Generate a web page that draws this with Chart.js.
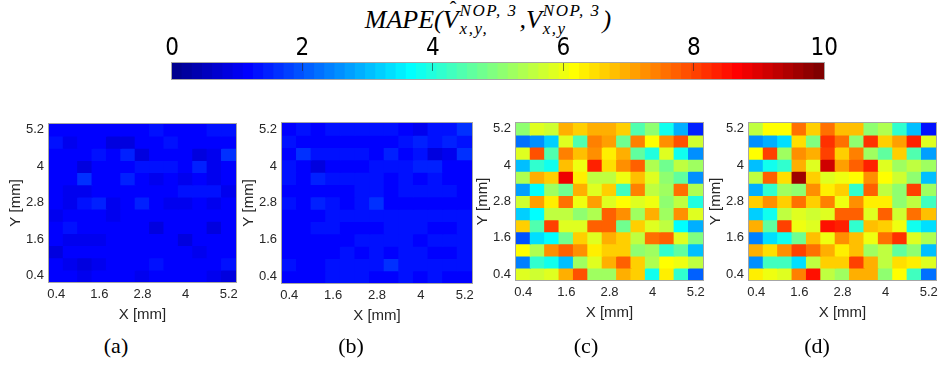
<!DOCTYPE html>
<html>
<head>
<meta charset="utf-8">
<script src="https://cdn.jsdelivr.net/npm/chart.js@4/dist/chart.umd.min.js"></script>
<style>
  html, body { margin: 0; padding: 0; background: #fff; }
  body { width: 941px; height: 366px; position: relative; overflow: hidden; }
  canvas { position: absolute; }
  #title { position: absolute; left: 488px; top: 2px; transform: translateX(-50%);
    font: italic 26px 'Liberation Serif', serif; white-space: nowrap; color: #000; line-height: 36px; }
  .hat { position: relative; }
  .hat i { position: absolute; left: 7px; top: -6px; font-style: normal; font-size: 20px; line-height: 20px; }
  .ss { display: inline-flex; flex-direction: column; font-size: 17px; line-height: 18px;
    vertical-align: 12px; letter-spacing: 1.5px; margin-left: 1px; margin-right: 2px; }
  .cap { position: absolute; top: 333px; font: 22px 'Liberation Serif', serif; transform: translateX(-50%); }
</style>
</head>
<body>
<div id="title">MAPE(<span class="hat">V<i>&#710;</i></span><span class="ss"><span>NOP, 3</span><span>x,y,</span></span>,V<span class="ss"><span>NOP, 3</span><span>x,y</span></span>)</div>
<canvas id="cbar"></canvas>
<canvas id="pa"></canvas>
<canvas id="pb"></canvas>
<canvas id="pc"></canvas>
<canvas id="pd"></canvas>
<div class="cap" style="left:116px">(a)</div>
<div class="cap" style="left:351px">(b)</div>
<div class="cap" style="left:586px">(c)</div>
<div class="cap" style="left:817px">(d)</div>
<script>
// grid coordinates (mm)
var xLabels = ['0.4', '0.8', '1.2', '1.6', '2', '2.4', '2.8', '3.2', '3.6', '4', '4.4', '4.8', '5.2'];
var xTickLabels = ['0.4', '1.6', '2.8', '4', '5.2'];
var yRows = [5.2, 4.8, 4.4, 4, 3.6, 3.2, 2.8, 2.4, 2, 1.6, 1.2, 0.8, 0.4]; // top row first
var yTicks = [0.4, 1.6, 2.8, 4, 5.2];
var cbarTicks = [0, 2, 4, 6, 8, 10];
var cMin = 0, cMax = 10, cLevels = 64;

// MAPE values, rows from top (y = 5.2) to bottom (y = 0.4)
var mapeA = [
  [1.1, 1.2, 1.1, 1.2, 1.2, 1.1, 1.1, 1.4, 1.1, 1.1, 1.2, 1.4, 1.4],
  [1.4, 1.0, 1.1, 1.2, 0.8, 0.9, 1.1, 1.1, 1.4, 1.2, 1.2, 1.2, 1.2],
  [1.1, 1.2, 1.2, 1.4, 1.1, 1.5, 0.9, 1.2, 1.1, 1.1, 0.8, 1.0, 1.6],
  [1.2, 1.1, 0.9, 1.2, 1.1, 1.1, 1.4, 1.3, 1.3, 1.2, 1.5, 1.0, 1.1],
  [1.2, 1.1, 1.6, 1.1, 1.1, 1.5, 1.1, 1.0, 1.1, 1.0, 1.1, 1.0, 1.1],
  [1.2, 1.0, 1.0, 1.1, 1.1, 1.2, 1.1, 1.1, 1.2, 1.3, 1.3, 1.3, 1.0],
  [1.1, 1.0, 1.3, 1.5, 1.0, 1.1, 1.5, 1.2, 1.0, 1.0, 1.1, 1.0, 1.1],
  [1.0, 1.1, 1.1, 1.2, 1.0, 1.1, 1.2, 1.2, 1.2, 1.2, 1.2, 1.2, 1.2],
  [1.1, 1.3, 1.1, 1.2, 1.2, 1.2, 1.1, 0.9, 1.2, 1.1, 1.1, 0.8, 1.2],
  [1.1, 1.0, 1.0, 1.0, 1.2, 1.2, 1.2, 1.2, 1.2, 0.9, 1.2, 1.1, 1.2],
  [0.9, 1.1, 1.1, 1.2, 1.2, 1.1, 1.2, 1.1, 1.2, 1.2, 1.0, 1.1, 1.2],
  [1.1, 1.0, 0.9, 1.0, 1.1, 1.1, 1.1, 1.4, 1.2, 1.2, 1.2, 1.1, 1.3],
  [1.1, 1.1, 1.0, 1.2, 1.2, 1.2, 1.0, 1.1, 1.1, 1.1, 1.1, 1.0, 0.8]
];
var mapeB = [
  [1.2, 1.3, 1.2, 1.3, 1.4, 1.3, 1.4, 1.4, 1.2, 1.0, 1.3, 1.3, 1.7],
  [1.4, 1.1, 1.2, 1.2, 1.1, 1.2, 1.2, 1.2, 1.3, 1.5, 1.3, 1.5, 1.3],
  [1.2, 1.6, 1.3, 1.3, 1.3, 1.3, 1.2, 1.5, 1.2, 1.3, 0.9, 1.0, 1.6],
  [1.4, 1.1, 0.9, 1.2, 1.1, 1.2, 1.4, 1.3, 1.3, 1.5, 1.5, 1.2, 1.1],
  [1.3, 1.2, 1.5, 1.3, 1.4, 1.4, 1.3, 1.2, 1.3, 1.1, 1.3, 1.2, 1.2],
  [1.2, 1.1, 1.2, 1.2, 1.2, 1.3, 1.3, 1.2, 1.3, 1.3, 1.4, 1.3, 1.2],
  [1.3, 1.2, 1.5, 1.3, 1.1, 1.3, 1.7, 1.2, 1.1, 1.1, 1.2, 1.2, 1.2],
  [1.1, 1.2, 1.2, 1.3, 1.3, 1.3, 1.3, 1.3, 1.3, 1.3, 1.3, 1.3, 1.4],
  [1.2, 1.2, 1.3, 1.3, 1.1, 1.2, 1.2, 1.3, 1.3, 1.3, 1.2, 1.1, 1.3],
  [1.2, 1.1, 1.2, 1.1, 1.2, 1.3, 1.4, 1.3, 1.3, 1.1, 1.4, 1.3, 1.3],
  [1.1, 1.2, 1.2, 1.2, 1.3, 1.2, 1.3, 1.2, 1.3, 1.3, 1.1, 1.2, 1.3],
  [1.3, 1.1, 1.1, 1.3, 1.3, 1.3, 1.3, 1.6, 1.3, 1.4, 1.3, 1.4, 1.3],
  [1.2, 1.2, 1.2, 1.4, 1.3, 1.3, 1.2, 1.2, 1.3, 1.1, 1.3, 1.1, 1.1]
];
var mapeC = [
  [5.0, 5.9, 5.7, 7.0, 6.6, 6.9, 6.9, 6.7, 4.4, 5.1, 3.8, 2.9, 1.5],
  [2.3, 2.5, 3.2, 5.9, 4.4, 7.4, 7.1, 4.8, 7.4, 6.2, 7.2, 7.9, 5.7],
  [5.8, 7.9, 4.5, 7.4, 6.8, 7.3, 6.4, 7.0, 4.6, 4.0, 5.8, 3.9, 2.6],
  [3.1, 4.2, 3.8, 6.8, 6.0, 8.3, 6.5, 7.2, 7.8, 5.4, 4.7, 5.5, 5.3],
  [5.4, 7.0, 6.7, 8.8, 6.3, 5.6, 5.6, 6.0, 6.8, 5.8, 5.1, 4.6, 2.6],
  [2.8, 3.6, 5.3, 4.7, 7.0, 5.8, 6.6, 4.3, 7.4, 5.5, 5.3, 7.6, 5.4],
  [5.7, 7.1, 6.3, 7.5, 6.0, 7.1, 5.9, 6.2, 5.8, 6.0, 5.0, 5.5, 4.0],
  [3.2, 3.7, 5.5, 5.5, 5.0, 5.4, 7.7, 7.2, 5.2, 7.0, 5.3, 7.2, 5.8],
  [6.7, 4.5, 8.0, 5.9, 5.9, 7.8, 7.8, 4.7, 6.6, 5.8, 5.6, 3.6, 2.9],
  [2.0, 3.3, 3.6, 4.8, 6.7, 5.9, 7.0, 6.6, 5.6, 7.5, 7.8, 5.9, 4.9],
  [6.2, 5.4, 7.2, 7.8, 7.3, 6.3, 6.6, 6.6, 5.0, 5.3, 4.1, 4.6, 3.0],
  [2.4, 4.1, 3.8, 3.1, 5.2, 5.8, 6.9, 7.7, 6.6, 5.4, 6.2, 6.0, 5.5],
  [5.8, 5.7, 5.9, 7.0, 7.9, 5.3, 5.2, 7.0, 6.6, 3.8, 6.3, 4.2, 2.1]
];
var mapeD = [
  [5.5, 6.2, 6.2, 7.6, 6.6, 7.5, 6.8, 6.8, 5.0, 5.4, 4.2, 3.0, 1.4],
  [2.5, 2.9, 3.3, 6.5, 4.9, 8.2, 7.5, 5.1, 8.2, 6.6, 7.1, 8.3, 5.9],
  [6.2, 8.1, 5.2, 7.3, 7.0, 8.1, 6.7, 7.4, 5.2, 4.6, 6.6, 4.5, 2.8],
  [3.1, 3.9, 4.2, 7.0, 5.9, 9.2, 7.1, 7.8, 8.3, 5.8, 5.3, 5.6, 5.3],
  [5.5, 7.8, 6.5, 9.6, 6.7, 5.9, 6.0, 6.1, 7.2, 6.2, 5.7, 5.1, 3.0],
  [2.9, 4.1, 5.2, 5.0, 7.3, 6.3, 6.7, 4.2, 7.7, 5.6, 5.0, 8.1, 5.3],
  [6.7, 7.3, 6.7, 7.6, 6.7, 7.4, 6.0, 7.2, 6.4, 6.4, 5.0, 5.6, 4.3],
  [3.2, 3.8, 5.6, 5.8, 5.7, 5.8, 7.7, 7.7, 5.8, 7.7, 5.7, 7.6, 6.8],
  [7.0, 4.6, 8.1, 6.0, 5.8, 8.5, 8.4, 4.2, 6.8, 6.7, 6.0, 3.9, 3.3],
  [2.4, 3.3, 3.9, 4.8, 6.8, 6.0, 7.3, 6.8, 6.0, 7.6, 8.2, 5.8, 5.4],
  [7.0, 6.5, 7.3, 8.1, 7.6, 6.9, 6.4, 6.8, 5.2, 5.5, 4.6, 5.1, 3.1],
  [2.5, 4.3, 4.3, 3.4, 5.6, 6.7, 6.7, 8.0, 7.0, 5.6, 6.5, 6.3, 5.8],
  [6.3, 6.0, 5.8, 7.4, 8.5, 5.6, 5.3, 7.0, 7.0, 5.0, 6.2, 4.3, 2.3]
];

// matlab jet(64)
function jet(v) {
  var t = (v - cMin) / (cMax - cMin);
  var k = Math.min(cLevels - 1, Math.max(0, Math.floor(t * cLevels)));
  var s = (k + 1) / cLevels;
  function c(x) { return Math.round(255 * Math.min(1, Math.max(0, 1.5 - Math.abs(4 * s - x)))); }
  return 'rgb(' + c(3) + ',' + c(2) + ',' + c(1) + ')';
}

var tickFont = { family: 'Liberation Sans, Arial, sans-serif', size: 13 };
var titleFont = { family: 'Liberation Sans, Arial, sans-serif', size: 15 };

var framePlugin = {
  id: 'frame',
  afterDraw: function (chart) {
    var a = chart.chartArea, ctx = chart.ctx;
    ctx.save();
    ctx.strokeStyle = '#a6a6a6';
    ctx.lineWidth = 1;
    ctx.strokeRect(Math.round(a.left) - 0.5, Math.round(a.top) - 0.5, Math.round(a.right - a.left) + 1, Math.round(a.bottom - a.top) + 1);
    ctx.restore();
  }
};

function drawPanel(id, values, box) {
  var yW = 42, xH = 42, padTop = 6, padRight = 12;
  var cv = document.getElementById(id);
  cv.width = yW + box.w + padRight;
  cv.height = padTop + box.h + xH;
  cv.style.left = (box.x - yW) + 'px';
  cv.style.top = (box.y - padTop) + 'px';

  var datasets = values.map(function (row, r) {
    return {
      data: row.map(function () { return [yRows[r] - 0.2, yRows[r] + 0.2]; }),
      backgroundColor: row.map(jet),
      borderWidth: 0,
      inflateAmount: 0.6,
      grouped: false,
      barPercentage: 1,
      categoryPercentage: 1
    };
  });

  new Chart(cv, {
    type: 'bar',
    data: { labels: xLabels, datasets: datasets },
    options: {
      responsive: false,
      animation: false,
      layout: { padding: { top: padTop, right: padRight, left: 0, bottom: 0 } },
      plugins: { legend: { display: false }, tooltip: { enabled: false } },
      scales: {
        x: {
          grid: { display: false, drawTicks: false },
          border: { display: false },
          ticks: {
            autoSkip: false, maxRotation: 0, padding: 5, color: '#262626', font: tickFont,
            callback: function (v, i) { return xTickLabels.indexOf(xLabels[i]) >= 0 ? xLabels[i] : ''; }
          },
          title: { display: true, text: 'X [mm]', color: '#262626', font: titleFont, padding: 0 },
          afterFit: function (s) { s.height = xH; }
        },
        y: {
          min: 0.2, max: 5.4,
          afterBuildTicks: function (s) { s.ticks = yTicks.map(function (v) { return { value: v }; }); },
          grid: { display: false, drawTicks: false },
          border: { display: false },
          ticks: { padding: 5, color: '#262626', font: tickFont, callback: function (v) { return String(v); } },
          title: { display: true, text: 'Y [mm]', color: '#262626', font: titleFont, padding: 0 },
          afterFit: function (s) { s.width = yW; }
        }
      }
    },
    plugins: [framePlugin]
  });
}

drawPanel('pa', mapeA, { x: 49, y: 117, w: 187, h: 165 });
drawPanel('pb', mapeB, { x: 282, y: 116, w: 190, h: 167 });
drawPanel('pc', mapeC, { x: 516, y: 116, w: 187, h: 164 });
drawPanel('pd', mapeD, { x: 749, y: 116, w: 187, h: 164 });

// colorbar
(function () {
  var box = { x: 172, y: 63, w: 654, h: 16 };
  var pad = 20, topH = 33;
  var cv = document.getElementById('cbar');
  cv.width = box.w + 2 * pad;
  cv.height = topH + box.h + 2;
  cv.style.left = (box.x - pad) + 'px';
  cv.style.top = (box.y - topH) + 'px';

  var levels = [], colors = [], ones = [];
  for (var k = 0; k < cLevels; k++) {
    var v = cMin + (k + 0.5) * (cMax - cMin) / cLevels;
    levels.push(v);
    colors.push(jet(v));
    ones.push(1);
  }

  new Chart(cv, {
    type: 'bar',
    data: {
      labels: levels,
      datasets: [{ data: ones, backgroundColor: colors, borderWidth: 0, inflateAmount: 0.6, barPercentage: 1, categoryPercentage: 1 }]
    },
    options: {
      responsive: false,
      animation: false,
      layout: { padding: { left: pad, right: pad, top: 0, bottom: 2 } },
      plugins: { legend: { display: false }, tooltip: { enabled: false } },
      scales: {
        x: { display: false },
        y: { display: false, min: 0, max: 1 },
        x2: {
          type: 'linear', position: 'top', min: cMin, max: cMax, offset: false,
          afterBuildTicks: function (s) { s.ticks = cbarTicks.map(function (v) { return { value: v }; }); },
          grid: {
            offset: false, drawOnChartArea: false, drawTicks: true, tickLength: -8, z: 1,
            color: function (c) { return (c.tick && (c.tick.value === cMin || c.tick.value === cMax)) ? 'rgba(0,0,0,0)' : 'rgba(40,40,40,0.6)'; }
          },
          border: { display: false },
          ticks: { padding: 8, color: '#000', font: { family: 'Liberation Sans Narrow, DejaVu Sans Condensed, Liberation Sans, sans-serif', size: 24 } },
          afterFit: function (s) { s.height = topH; }
        }
      }
    },
    plugins: [framePlugin]
  });
})();
</script>
</body>
</html>
